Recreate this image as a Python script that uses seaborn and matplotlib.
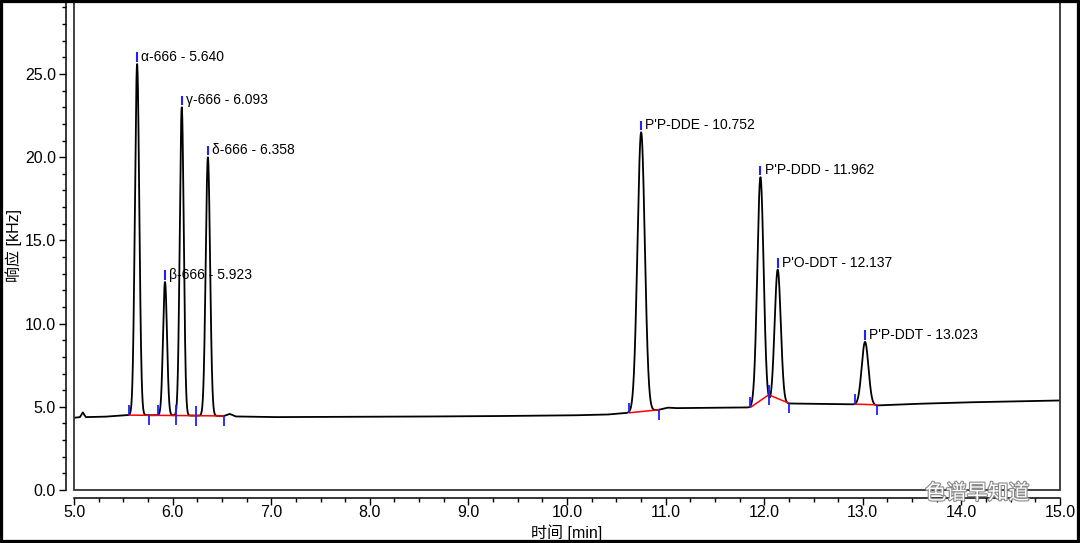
import numpy as np
import pandas as pd
import matplotlib
matplotlib.use("Agg")
import matplotlib.pyplot as plt
import matplotlib.patheffects as pe
from matplotlib.patches import Rectangle
from matplotlib.ticker import MultipleLocator, FormatStrFormatter
import seaborn as sns

# --- peaks ---
peak_names = ["α-666", "β-666", "γ-666", "δ-666",
              "P'P-DDE", "P'P-DDD", "P'O-DDT", "P'P-DDT"]
peak_rt = [5.640, 5.923, 6.093, 6.358, 10.752, 11.962, 12.137, 13.023]
peak_apex = [25.6, 12.5, 23.0, 20.0, 21.5, 18.8, 13.25, 8.9]
peak_sigma = [0.022, 0.020, 0.020, 0.022, 0.037, 0.032, 0.031, 0.034]

# --- drifting baseline of the trace ---
base_t = [5.00, 5.06, 5.09, 5.12, 5.30, 5.55, 6.00, 6.52, 6.58, 6.64,
          7.00, 8.00, 9.00, 10.00, 10.40, 10.63, 10.93, 11.02, 11.10, 11.50,
          11.86, 12.045, 12.25, 12.60, 12.92, 13.14, 13.50, 14.00, 14.50, 15.00]
base_y = [4.34, 4.38, 4.66, 4.38, 4.40, 4.50, 4.49, 4.45, 4.57, 4.42,
          4.38, 4.40, 4.43, 4.48, 4.53, 4.64, 4.82, 4.95, 4.92, 4.94,
          4.96, 5.10, 5.20, 5.17, 5.14, 5.08, 5.17, 5.26, 5.32, 5.38]

# --- integration baselines (red) ---
int_segments = [
    ([5.558, 6.521], [4.50, 4.45]),
    ([10.63, 10.93], [4.64, 4.82]),
    ([11.86, 12.045, 12.25], [4.96, 5.72, 5.22]),
    ([12.92, 13.14], [5.16, 5.12]),
]
start_t = [5.558, 5.855, 6.034, 6.237, 10.63, 11.86, 12.045, 12.92]
start_y = [4.50, 4.49, 4.48, 4.47, 4.64, 4.96, 5.72, 5.16]
end_t = [5.763, 6.034, 6.237, 6.521, 10.93, 12.045, 12.25, 13.14]
end_y = [4.49, 4.48, 4.47, 4.45, 4.82, 5.72, 5.22, 5.12]

# build trace: baseline + gaussian peaks
t = np.linspace(5.0, 15.0, 6001)
signal = np.interp(t, base_t, base_y)
for rt, apex, sg in zip(peak_rt, peak_apex, peak_sigma):
    amp = apex - np.interp(rt, base_t, base_y)
    signal = signal + amp * np.exp(-0.5 * ((t - rt) / sg) ** 2)
df = pd.DataFrame({"time": t, "signal": signal})

sns.set_style("ticks")
plt.rcParams["font.family"] = ["Liberation Sans", "Noto Sans CJK SC", "DejaVu Sans"]
plt.rcParams["text.color"] = "black"
plt.rcParams["axes.labelcolor"] = "black"
plt.rcParams["xtick.color"] = "black"
plt.rcParams["ytick.color"] = "black"

fig = plt.figure(figsize=(10.8, 5.43), dpi=100)
ax = fig.add_axes([74 / 1080, 53 / 543, 986 / 1080, 488 / 543])

sns.lineplot(data=df, x="time", y="signal", ax=ax, color="black",
             linewidth=1.3, estimator=None, sort=False)

for xs, ys in int_segments:
    ax.plot(xs, ys, color="red", linewidth=1.1, zorder=3)

tick_len = 0.6
ax.vlines(start_t, start_y, np.array(start_y) + tick_len, color="#1f1fff", lw=1.3, zorder=4)
ax.vlines(end_t, np.array(end_y) - tick_len, end_y, color="#1f1fff", lw=1.3, zorder=4)

for name, rt, apex in zip(peak_names, peak_rt, peak_apex):
    top = df.loc[(df.time - rt).abs().idxmin(), "signal"]
    ax.vlines(rt, top + 0.12, top + 0.7, color="#1f1fff", lw=1.5, zorder=4)
    ax.annotate(f"{name} - {rt:.3f}", xy=(rt, top + 0.42), xytext=(3, 0),
                textcoords="offset points", va="center", ha="left", fontsize=10)

ax.set_xlim(5.0, 15.0)
ax.set_ylim(0, 488 / 16.64)
ax.xaxis.set_major_locator(MultipleLocator(1.0))
ax.xaxis.set_minor_locator(MultipleLocator(0.25))
ax.yaxis.set_major_locator(MultipleLocator(5.0))
ax.yaxis.set_minor_locator(MultipleLocator(1.0))
ax.xaxis.set_major_formatter(FormatStrFormatter("%.1f"))
ax.yaxis.set_major_formatter(FormatStrFormatter("%.1f"))
ax.tick_params(which="major", length=5, width=1, labelsize=11.5)
ax.tick_params(which="minor", length=3, width=1)
ax.tick_params(axis="x", which="major", pad=0)
ax.tick_params(axis="y", which="major", pad=2)

# detached axes with the plot box drawn separately
ax.spines["left"].set_position(("outward", 6))
ax.spines["bottom"].set_position(("outward", 6))
ax.spines["top"].set_visible(False)
ax.spines["right"].set_visible(False)
for s in ("left", "bottom"):
    ax.spines[s].set_linewidth(1.1)
    ax.spines[s].set_color("black")
ax.add_patch(Rectangle((0, 0), 1, 1, transform=ax.transAxes, fill=False,
                       edgecolor="#333333", linewidth=1.3, clip_on=False, zorder=5))

ax.set_xlabel("时间 [min]", fontsize=11.5)
ax.set_ylabel("响应 [kHz]", fontsize=11.5)
ax.xaxis.set_label_coords(0.5, -43 / 488)
ax.yaxis.set_label_coords(-60 / 986, 0.5)
ax.xaxis.label.set_va("center")
ax.yaxis.label.set_va("center")

# watermark
fig.text(0.905, 0.092, "色谱早知道", fontsize=15, color="white", ha="center", va="center",
         path_effects=[pe.withStroke(linewidth=1.6, foreground="#888888")], zorder=10)

fig.patches.append(Rectangle((0, 0), 1, 1, transform=fig.transFigure, fill=False,
                             edgecolor="black", linewidth=4.5, zorder=20))

fig.savefig("out.png", dpi=100)
